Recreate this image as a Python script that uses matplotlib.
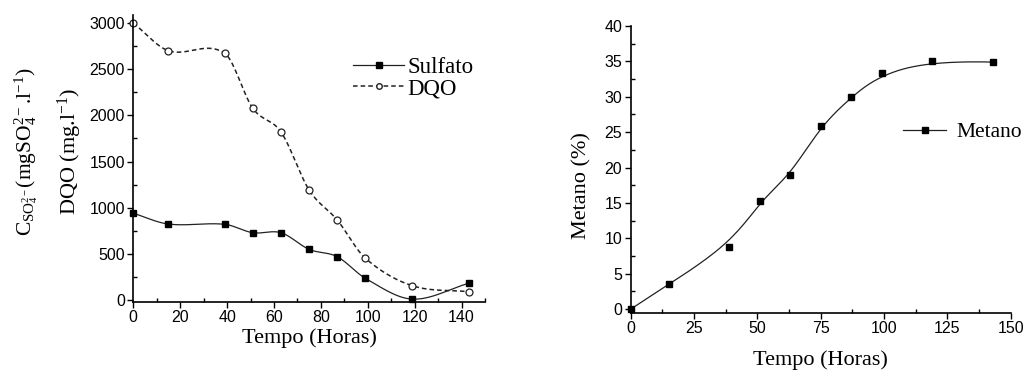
import numpy as np
import matplotlib
matplotlib.use("Agg")
import matplotlib.pyplot as plt
from matplotlib.ticker import MultipleLocator

# dados
tempo = [0, 15, 39, 51, 63, 75, 87, 99, 119, 143]
sulfato = [940, 823, 820, 729, 729, 549, 469, 235, 10, 181]
dqo = [3000, 2700, 2672, 2076, 1820, 1191, 866, 452, 155, 90]
metano = [0.0, 3.5, 8.8, 15.3, 18.9, 25.9, 29.9, 33.4, 35.1, 34.9]

ticks_esq = [0, 20, 40, 60, 80, 100, 120, 140]
ticks_dir = [0, 25, 50, 75, 100, 125, 150]

plt.rcParams['mathtext.fontset'] = 'custom'
plt.rcParams['mathtext.rm'] = 'Liberation Serif'
plt.rcParams['mathtext.it'] = 'Liberation Serif:italic'
plt.rcParams['mathtext.default'] = 'regular'

SERIF = 'Liberation Serif'
SANS = 'Liberation Sans'
COR = '#222222'


def suave(x, y, n=400):
    # curva pelos pontos (hermite com derivadas tipo catmull-rom)
    x = np.asarray(x, float)
    y = np.asarray(y, float)
    h = np.diff(x)
    d = np.diff(y) / h
    m = np.zeros(len(x))
    m[1:-1] = (y[2:] - y[:-2]) / (x[2:] - x[:-2])
    m[0] = d[0]
    m[-1] = d[-1]
    xs = np.linspace(x[0], x[-1], n)
    k = np.clip(np.searchsorted(x, xs) - 1, 0, len(x) - 2)
    t = (xs - x[k]) / h[k]
    h00 = 2 * t ** 3 - 3 * t ** 2 + 1
    h10 = t ** 3 - 2 * t ** 2 + t
    h01 = -2 * t ** 3 + 3 * t ** 2
    h11 = t ** 3 - t ** 2
    return xs, h00 * y[k] + h10 * h[k] * m[k] + h01 * y[k + 1] + h11 * h[k] * m[k + 1]


def bspline(x, y, n=400):
    # B-spline cubica com os pontos como controle (ligacao "B-Spline")
    P = np.column_stack([x, y]).astype(float)
    k = 3
    nint = len(P) - k
    knots = np.concatenate([np.zeros(k), np.arange(nint + 1), np.full(k, nint)]).astype(float)
    t = np.linspace(0, nint, n)
    t[-1] = nint - 1e-9
    B = np.zeros((n, len(knots) - 1))
    for i in range(len(knots) - 1):
        B[:, i] = (t >= knots[i]) & (t < knots[i + 1])
    for d in range(1, k + 1):
        Bn = np.zeros((n, len(knots) - 1 - d))
        for i in range(len(knots) - 1 - d):
            a = knots[i + d] - knots[i]
            c = knots[i + d + 1] - knots[i + 1]
            term = 0
            if a > 0:
                term = term + (t - knots[i]) / a * B[:, i]
            if c > 0:
                term = term + (knots[i + d + 1] - t) / c * B[:, i + 1]
            Bn[:, i] = term
        B = Bn
    curva = B @ P
    return curva[:, 0], curva[:, 1]


def estilo(ax):
    ax.spines['top'].set_visible(False)
    ax.spines['right'].set_visible(False)
    ax.spines['left'].set_linewidth(1.2)
    ax.spines['bottom'].set_linewidth(1.2)
    ax.tick_params(which='major', direction='out', length=4, width=1.0, labelsize=11.5, pad=2)
    ax.tick_params(which='minor', direction='in', length=3, width=1.0)
    for lab in ax.get_xticklabels() + ax.get_yticklabels():
        lab.set_fontfamily(SANS)


fig = plt.figure(figsize=(10.26, 3.70), dpi=100)

# ---- grafico da esquerda
ax1 = fig.add_axes([0.1299, 0.1846, 0.3428, 0.7749])
xs, ys = suave(tempo, sulfato)
ax1.plot(xs, ys, '-', color=COR, lw=0.9)
xs, ys = suave(tempo, dqo)
ax1.plot(xs, ys, '--', color=COR, lw=1.1, dashes=(3, 2))
ax1.plot(tempo, sulfato, 's', color='black', ms=4.5, clip_on=False)
ax1.plot(tempo, dqo, 'o', mfc='white', mec=COR, mew=0.9, ms=5, clip_on=False)
ax1.set_xlim(0, 150)
ax1.set_ylim(-18, 3087)
ax1.set_xticks(ticks_esq)
ax1.xaxis.set_minor_locator(MultipleLocator(10))
ax1.yaxis.set_major_locator(MultipleLocator(500))
ax1.yaxis.set_minor_locator(MultipleLocator(250))
estilo(ax1)
ax1.set_xlabel('Tempo (Horas)', fontfamily=SERIF, fontsize=16, labelpad=2)

h1, = ax1.plot([], [], '-', color=COR, lw=0.9, marker='s', mfc='black', mec='black', ms=4.5)
h2, = ax1.plot([], [], '--', color=COR, lw=1.1, dashes=(3, 2), marker='o', mfc='white', mec=COR, ms=4)
ax1.legend([h1, h2], ['Sulfato', 'DQO'], loc='upper left', bbox_to_anchor=(0.6, 0.885),
           frameon=False, prop={'family': SERIF, 'size': 16.5}, handlelength=2.2,
           handletextpad=0.15, labelspacing=0.0, borderaxespad=0)

fig.text(0.026, 0.59, r'C$_{SO_4^{2-}}$(mgSO$_4^{2-}$.l$^{-1}$)', rotation=90,
         ha='center', va='center', fontfamily=SERIF, fontsize=15.5)
fig.text(0.068, 0.59, r'DQO (mg.l$^{-1}$)', rotation=90,
         ha='center', va='center', fontfamily=SERIF, fontsize=16)

# ---- grafico da direita
ax2 = fig.add_axes([0.6147, 0.1549, 0.3704, 0.7749])
xs, ys = bspline(tempo, metano)
ax2.plot(xs, ys, '-', color=COR, lw=0.9)
ax2.plot(tempo, metano, 's', color='black', ms=4.5, clip_on=False)
ax2.set_xlim(0, 150)
ax2.set_ylim(-0.5, 40)
ax2.set_xticks(ticks_dir)
ax2.xaxis.set_minor_locator(MultipleLocator(12.5))
ax2.yaxis.set_major_locator(MultipleLocator(5))
ax2.yaxis.set_minor_locator(MultipleLocator(2.5))
estilo(ax2)
ax2.set_xlabel('Tempo (Horas)', fontfamily=SERIF, fontsize=16, labelpad=10)
ax2.set_ylabel('Metano (%)', fontfamily=SERIF, fontsize=16)
ax2.yaxis.set_label_coords(-0.102, 0.445)

h3, = ax2.plot([], [], '-', color=COR, lw=0.9, marker='s', mfc='black', mec='black', ms=4.5)
ax2.legend([h3], ['Metano'], loc='center left', bbox_to_anchor=(0.695, 0.63),
           frameon=False, prop={'family': SERIF, 'size': 15.5}, handlelength=2.0,
           handletextpad=0.45, borderaxespad=0)

fig.savefig('out.png', dpi=100)
